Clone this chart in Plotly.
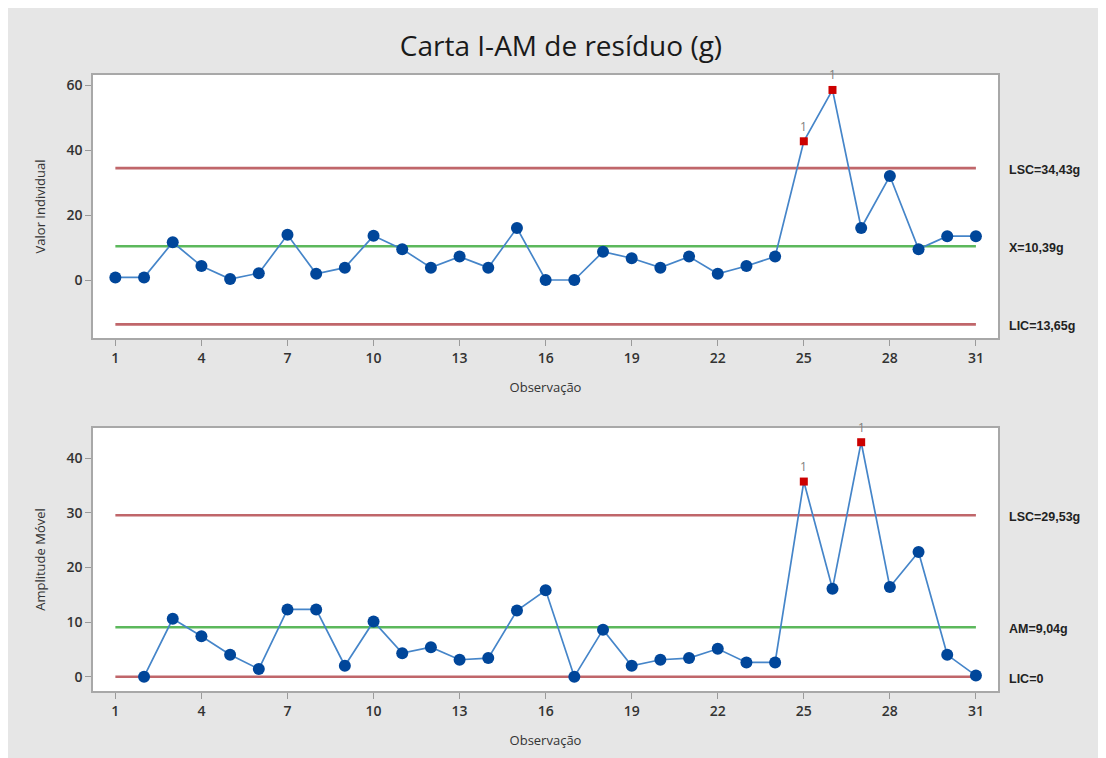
import plotly.graph_objects as go

# ---- data ----
observations = list(range(1, 32))
individual_values = [0.8, 0.8, 11.6, 4.3, 0.3, 2.1, 13.9, 1.9, 3.8, 13.6,
                     9.5, 3.8, 7.2, 3.8, 16.0, 0.0, 0.0, 8.7, 6.7, 3.8,
                     7.2, 1.9, 4.3, 7.2, 42.7, 58.5, 16.0, 32.0, 9.5, 13.5, 13.5]
mr_observations = list(range(2, 32))
moving_ranges = [0.0, 10.6, 7.4, 4.0, 1.4, 12.3, 12.3, 2.0, 10.1, 4.3,
                 5.4, 3.1, 3.4, 12.1, 15.8, 0.0, 8.6, 2.0, 3.1, 3.4,
                 5.1, 2.6, 2.6, 35.7, 16.1, 42.9, 16.4, 22.8, 4.0, 0.2]

i_limits = {"LSC": 34.43, "CL": 10.39, "LIC": -13.65}
mr_limits = {"LSC": 29.53, "CL": 9.04, "LIC": 0.0}
i_labels = {"LSC": "LSC=34,43g", "CL": "X=10,39g", "LIC": "LIC=13,65g"}
mr_labels = {"LSC": "LSC=29,53g", "CL": "AM=9,04g", "LIC": "LIC=0"}
x_tickvals = [1, 4, 7, 10, 13, 16, 19, 22, 25, 28, 31]

# ---- styles ----
W, H = 1106, 758
# page body adds 8px offset; coordinates below are in figure space
L, R, T, B = 85, 116, 67, 75
BG = "#e6e6e6"
LINE_BLUE = "#4585c9"
DOT_BLUE = "#00469a"
RED_PT = "#cc0000"
LIMIT_RED = "#c0666a"
CL_GREEN = "#5cb85c"
FRAME = "#a8a8a8"
TXT = "#333333"

fig = go.Figure()


def add_chart(xs, ys, limits, labels, xa, ya, yref):
    first, last = observations[0], observations[-1]
    for key in ("LSC", "LIC"):
        fig.add_trace(go.Scatter(x=[first, last], y=[limits[key]] * 2, mode="lines",
                                 line=dict(color=LIMIT_RED, width=2.6),
                                 xaxis=xa, yaxis=ya, hoverinfo="skip", showlegend=False))
    fig.add_trace(go.Scatter(x=[first, last], y=[limits["CL"]] * 2, mode="lines",
                             line=dict(color=CL_GREEN, width=2.4),
                             xaxis=xa, yaxis=ya, hoverinfo="skip", showlegend=False))
    out = [v > limits["LSC"] or v < limits["LIC"] for v in ys]
    fig.add_trace(go.Scatter(
        x=xs, y=ys, mode="lines+markers",
        line=dict(color=LINE_BLUE, width=1.7),
        marker=dict(symbol=["square" if o else "circle" for o in out],
                    size=[8 if o else 12 for o in out],
                    color=[RED_PT if o else DOT_BLUE for o in out],
                    opacity=1,
                    line=dict(width=0)),
        xaxis=xa, yaxis=ya, showlegend=False))
    for x, y, o in zip(xs, ys, out):
        if o:
            fig.add_annotation(x=x, y=y, xref=xa.replace("axis", ""), yref=yref,
                               text="1", showarrow=False, yshift=15,
                               font=dict(family="Open Sans", size=12, color="#808080"))
    for key in ("LSC", "CL", "LIC"):
        fig.add_annotation(x=1, y=limits[key], xref="paper", yref=yref,
                           text=labels[key], showarrow=False, xanchor="left",
                           xshift=9, yshift=-2,
                           font=dict(family="Liberation Sans", size=12.5,
                                     color="#222222", weight="bold"))


add_chart(observations, individual_values, i_limits, i_labels, "x", "y", "y")
add_chart(mr_observations, moving_ranges, mr_limits, mr_labels, "x2", "y2", "y2")

plot_h = H - T - B
top_bottom_px = 338 - 8
bot_top_px = 428 - 8
top_dom = [(H - B - top_bottom_px) / plot_h, 1.0]
bot_dom = [0.0, (H - B - bot_top_px) / plot_h]

axis_common = dict(showline=True, mirror=True, linecolor=FRAME, linewidth=1.5,
                   ticks="outside", tickcolor="#9a9a9a", ticklen=6, tickwidth=1,
                   showgrid=False, zeroline=False,
                   tickfont=dict(family="Open Sans", size=14, color=TXT, weight=600))

xcommon = dict(axis_common, range=[0.22, 31.77], tickvals=x_tickvals,
               title=dict(text="Observação", standoff=17,
                          font=dict(family="Open Sans", size=13, color=TXT)))

fig.update_layout(
    width=W, height=H,
    margin=dict(l=L, r=R, t=T, b=B),
    paper_bgcolor=BG, plot_bgcolor="white",
    title=dict(text="Carta I-AM de resíduo (g)", x=0.5, xref="container", xanchor="center",
               y=1 - 38 / H, yanchor="middle",
               font=dict(family="Open Sans", size=28, color="#1a1a1a")),
    xaxis=dict(xcommon, domain=[0, 1], anchor="y"),
    yaxis=dict(axis_common, domain=top_dom, anchor="x", range=[-17.85, 63.1],
               tickvals=[0, 20, 40, 60],
               title=dict(text="Valor Individual", standoff=18,
                          font=dict(family="Open Sans", size=13, color=TXT))),
    xaxis2=dict(xcommon, domain=[0, 1], anchor="y2"),
    yaxis2=dict(axis_common, domain=bot_dom, anchor="x2", range=[-2.62, 45.5],
                tickvals=[0, 10, 20, 30, 40],
                title=dict(text="Amplitude Móvel", standoff=18,
                           font=dict(family="Open Sans", size=13, color=TXT))),
    showlegend=False,
)

fig.write_html("out.html")
